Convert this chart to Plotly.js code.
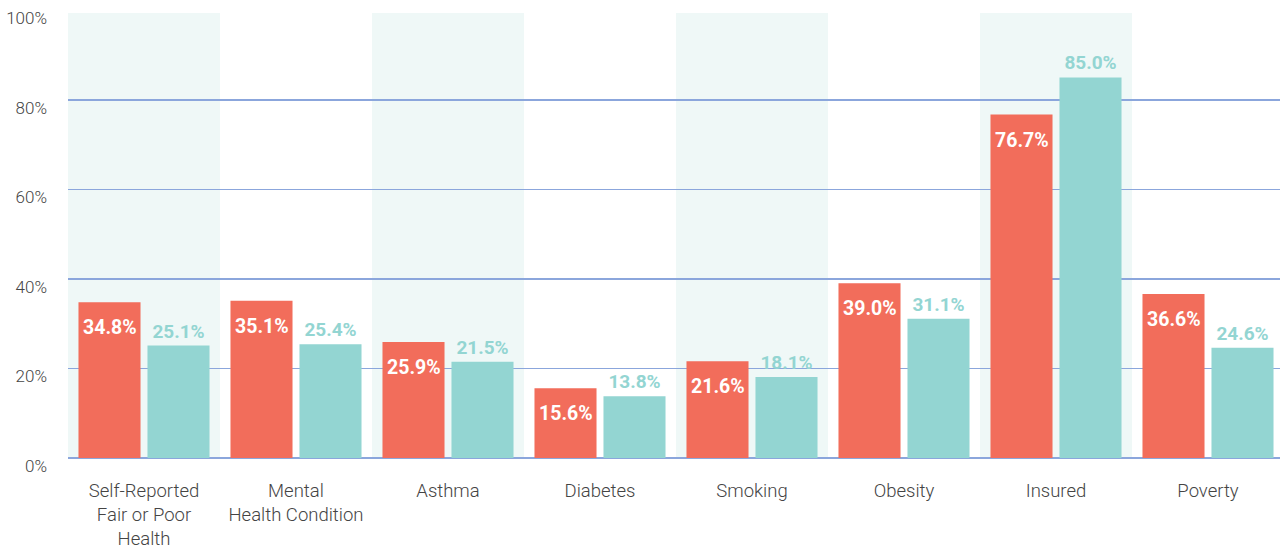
<!DOCTYPE html>
<html>
<head>
<meta charset="utf-8">
<script src="https://cdn.plot.ly/plotly-3.0.1.min.js"></script>
<style>
html,body{margin:0;padding:0;overflow:hidden;background:#fff;}
#chart{width:1284px;height:553px;}
</style>
</head>
<body>
<div id="chart"></div>
<script>
const categories = ["Self-Reported<br>Fair or Poor<br>Health", "Mental<br>Health Condition", "Asthma", "Diabetes", "Smoking", "Obesity", "Insured", "Poverty"];
const seriesA = [34.8, 35.1, 25.9, 15.6, 21.6, 39.0, 76.7, 36.6];
const seriesB = [25.1, 25.4, 21.5, 13.8, 18.1, 31.1, 85.0, 24.6];
const yTickVals = [0, 20, 40, 60, 80, 100];
const yTickText = ["0%", "20%", "40%", "60%", "80%", "100%"];
const shadedIdx = [0, 2, 4, 6];

const red = "#f26d5b";
const teal = "#93d5d2";

const fmt = v => v.toFixed(1) + "%";

const traces = [
  {
    type: "bar", x: categories, y: seriesA, marker: {color: red},
    hoverinfo: "none"
  },
  {
    type: "bar", x: categories, y: seriesB, marker: {color: teal},
    text: seriesB.map(fmt), textposition: "outside", textangle: 0, constraintext: "none",
    outsidetextfont: {family: "Roboto", size: 19, color: teal, weight: 700},
    hoverinfo: "none", cliponaxis: false
  }
];

const shapes = shadedIdx.map(i => ({
  type: "rect", xref: "x", yref: "y", layer: "below",
  x0: i - 0.5, x1: i + 0.5, y0: -1.1, y1: 99.4,
  fillcolor: "#eff8f7", line: {width: 0}
}));

const annotations = seriesA.map((v, i) => ({
  x: categories[i], y: v, xref: "x", yref: "y",
  xshift: -34.5, yshift: -12, yanchor: "top", xanchor: "center",
  text: fmt(v), showarrow: false,
  font: {family: "Roboto", size: 19.5, color: "#ffffff", weight: 700}
}));

const layout = {
  width: 1284, height: 553,
  margin: {l: 68, r: 0, t: 10, b: 95},
  paper_bgcolor: "#ffffff", plot_bgcolor: "rgba(0,0,0,0)",
  showlegend: false,
  barmode: "group", bargap: 0.092, bargroupgap: 0.101,
  shapes: shapes,
  annotations: annotations,
  xaxis: {
    type: "category", tickvals: categories, ticktext: categories,
    showgrid: false, showline: false, ticks: "",
    tickfont: {family: "Roboto", size: 18.5, color: "#444", weight: 300},
    ticklabelstandoff: 19, range: [-0.5, 7.5]
  },
  yaxis: {
    range: [0, 100.05], tickvals: yTickVals, ticktext: yTickText,
    showgrid: true, gridcolor: "#8ba6dc", gridwidth: 1.5,
    zeroline: true, zerolinecolor: "#8ba6dc", zerolinewidth: 2,
    showline: false, ticks: "",
    tickfont: {family: "Roboto", size: 17, color: "#444", weight: 300},
    ticklabelstandoff: 20, ticklabelshift: 8
  },
  font: {family: "Roboto"}
};

Plotly.newPlot("chart", traces, layout, {displayModeBar: false, staticPlot: true});
</script>
</body>
</html>
